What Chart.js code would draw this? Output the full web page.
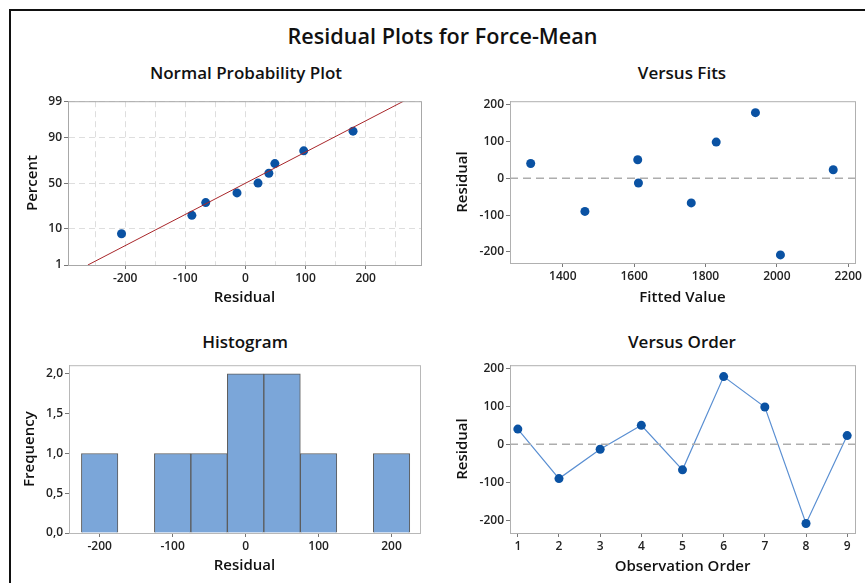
<!DOCTYPE html>
<html>
<head>
<meta charset="utf-8">
<script src="https://cdn.jsdelivr.net/npm/chart.js@4.4.1/dist/chart.umd.min.js"></script>
<style>
  html, body { margin: 0; padding: 0; background: #fff; }
  body { width: 865px; height: 583px; position: relative; overflow: hidden; font-family: "Open Sans", sans-serif; color: #111; }
  .frame { position: absolute; left: 9px; top: 9px; width: 900px; height: 600px; border-left: 2px solid #111; border-top: 2px solid #111; }
  .title { position: absolute; left: 0; width: 885px; top: 21px; text-align: center; font-size: 21.6px; font-weight: 600; }
  .sub { position: absolute; font-size: 17px; font-weight: 600; text-align: center; width: 300px; }
  canvas { position: absolute; }
</style>
</head>
<body>
<div class="frame"></div>
<div class="title">Residual Plots for Force-Mean</div>
<div class="sub" style="left:96px; top:61px;">Normal Probability Plot</div>
<div class="sub" style="left:532px; top:61px;">Versus Fits</div>
<div class="sub" style="left:95px; top:330px;">Histogram</div>
<div class="sub" style="left:532px; top:330px;">Versus Order</div>

<div style="position:absolute;left:14px;top:92px;width:414px;height:222px;"><canvas id="npp"></canvas></div>
<div style="position:absolute;left:446px;top:92px;width:419px;height:222px;"><canvas id="fits"></canvas></div>
<div style="position:absolute;left:14px;top:356px;width:414px;height:227px;"><canvas id="hist"></canvas></div>
<div style="position:absolute;left:446px;top:356px;width:419px;height:227px;"><canvas id="order"></canvas></div>

<script>
// residuals in observation order
const orderLabels = [1, 2, 3, 4, 5, 6, 7, 8, 9];
const residuals = [40, -90, -13, 50, -67, 178, 98, -208, 23];
const fittedValues = [1310, 1462, 1612, 1610, 1760, 1940, 1830, 2010, 2158];

// normal probability plot (sorted residuals and their plotted percent)
const nppResiduals = [-206, -89, -66, -14, 21, 39, 49, 97, 179];
const nppPercent = [7.5, 18, 29, 39, 50, 61, 71, 82, 93];
const nppLineX = [-262, 263];
const nppLineP = [1, 99];
const nppPercentTicks = [1, 10, 50, 90, 99];
const nppXTicks = [-250, -200, -150, -100, -50, 0, 50, 100, 150, 200, 250];

// histogram bins (centers) and counts
const binCenters = [-200, -150, -100, -50, 0, 50, 100, 150, 200];
const binCounts = [1, 0, 1, 1, 2, 2, 1, 0, 1];
const histXTicks = [-200, -100, 0, 100, 200];
const histYTicks = [0, 0.5, 1, 1.5, 2];

const residTicks = [-200, -100, 0, 100, 200];
const fitsXTicks = [1400, 1600, 1800, 2000, 2200];

const BLUE = '#0a52a3';
const FONT = 'Open Sans';
const tickFont = { family: FONT, size: 12, weight: '600' };
const titleFont = { family: FONT, size: 15, weight: '600' };

// inverse normal cdf (Acklam), p in percent
function probit(pct) {
  const p = pct / 100;
  const a = [-3.969683028665376e+01, 2.209460984245205e+02, -2.759285104469687e+02, 1.383577518672690e+02, -3.066479806614716e+01, 2.506628277459239e+00];
  const b = [-5.447609879822406e+01, 1.615858368580409e+02, -1.556989798598866e+02, 6.680131188771972e+01, -1.328068155288572e+01];
  const c = [-7.784894002430293e-03, -3.223964580411365e-01, -2.400758277161838e+00, -2.549732539343734e+00, 4.374664141464968e+00, 2.938163982698783e+00];
  const d = [7.784695709041462e-03, 3.224671290700398e-01, 2.445134137142996e+00, 3.754408661907416e+00];
  const pl = 0.02425;
  let q, r;
  if (p < pl) {
    q = Math.sqrt(-2 * Math.log(p));
    return (((((c[0]*q+c[1])*q+c[2])*q+c[3])*q+c[4])*q+c[5]) / ((((d[0]*q+d[1])*q+d[2])*q+d[3])*q+1);
  }
  if (p > 1 - pl) {
    q = Math.sqrt(-2 * Math.log(1 - p));
    return -(((((c[0]*q+c[1])*q+c[2])*q+c[3])*q+c[4])*q+c[5]) / ((((d[0]*q+d[1])*q+d[2])*q+d[3])*q+1);
  }
  q = p - 0.5; r = q * q;
  return (((((a[0]*r+a[1])*r+a[2])*r+a[3])*r+a[4])*r+a[5])*q / (((((b[0]*r+b[1])*r+b[2])*r+b[3])*r+b[4])*r+1);
}

// box around plot area + optional dashed zero line
const frameBox = {
  id: 'frameBox',
  afterDatasetsDraw(chart, args, opts) {
    const { ctx, chartArea: a } = chart;
    ctx.save();
    if (opts.zeroLine) {
      const y = chart.scales.y.getPixelForValue(0);
      ctx.strokeStyle = '#adadad';
      ctx.lineWidth = 1.5;
      ctx.setLineDash([8, 5]);
      ctx.beginPath();
      ctx.moveTo(a.left, y);
      ctx.lineTo(a.right, y);
      ctx.stroke();
      ctx.setLineDash([]);
    }
    ctx.strokeStyle = opts.color || '#a8a8a8';
    ctx.lineWidth = 1;
    ctx.strokeRect(a.left + 0.5, a.top + 0.5, a.right - a.left, a.bottom - a.top);
    ctx.restore();
  }
};
Chart.register(frameBox);

function fixTicks(values) {
  return scale => { scale.ticks = values.map(v => ({ value: v })); };
}

function xAxis(min, max, ticks, title, height, opts = {}) {
  return {
    type: 'linear', min, max, offset: false,
    afterBuildTicks: fixTicks(ticks),
    afterFit: s => { s.height = height; },
    border: Object.assign({ color: '#a8a8a8' }, opts.border || {}),
    grid: Object.assign({ display: true, offset: false, drawOnChartArea: false, tickLength: 4, tickColor: '#777' }, opts.grid || {}),
    ticks: Object.assign({ font: tickFont, color: '#222', padding: 2, maxRotation: 0, autoSkip: false, callback: v => String(v) }, opts.ticks || {}),
    title: { display: true, text: title, font: titleFont, color: '#111', padding: { top: 0, bottom: opts.titlePad || 7.5 } }
  };
}

function yAxis(min, max, ticks, title, width, titlePad, opts = {}) {
  return {
    type: 'linear', min, max,
    afterBuildTicks: fixTicks(ticks),
    afterFit: s => { s.width = width; },
    border: Object.assign({ color: '#a8a8a8' }, opts.border || {}),
    grid: Object.assign({ display: true, drawOnChartArea: false, tickLength: 4, tickColor: '#777' }, opts.grid || {}),
    ticks: Object.assign({ font: tickFont, color: '#222', padding: 2, autoSkip: false, callback: v => String(v) }, opts.ticks || {}),
    title: { display: true, text: title, font: titleFont, color: '#111', padding: { top: titlePad, bottom: 0 } }
  };
}

const common = {
  responsive: true,
  maintainAspectRatio: false,
  animation: false,
  events: [],
  plugins: { legend: { display: false }, tooltip: { enabled: false } }
};

// Normal probability plot
new Chart(document.getElementById('npp'), {
  type: 'scatter',
  data: {
    datasets: [
      {
        data: nppLineX.map((x, i) => ({ x, y: probit(nppLineP[i]) })),
        showLine: true, borderColor: '#a8262a', borderWidth: 1, pointRadius: 0
      },
      {
        data: nppResiduals.map((x, i) => ({ x, y: probit(nppPercent[i]) })),
        backgroundColor: BLUE, borderColor: BLUE, pointRadius: 4.5, borderWidth: 0
      }
    ]
  },
  options: Object.assign({}, common, {
    layout: { padding: { top: 8, right: 7, left: 0, bottom: 0 } },
    plugins: Object.assign({}, common.plugins, { frameBox: { color: '#a8a8a8' } }),
    scales: {
      x: xAxis(-295, 292, nppXTicks, 'Residual', 49, {
        grid: { drawOnChartArea: true, color: '#dedede', tickColor: c => (c.tick && c.tick.value % 100 === 0 ? '#777' : 'rgba(0,0,0,0)') },
        border: { dash: [6, 4] },
        ticks: { callback: v => (v % 100 === 0 ? String(v) : '') }
      }),
      y: yAxis(probit(1), probit(99), nppPercentTicks.map(probit), 'Percent', 54, 10, {
        grid: { drawOnChartArea: true, color: '#dedede' },
        border: { dash: [6, 4] },
        ticks: { callback: (v, i) => String(nppPercentTicks[i]) }
      })
    }
  })
});

// Versus fits
new Chart(document.getElementById('fits'), {
  type: 'scatter',
  data: {
    datasets: [{
      data: fittedValues.map((x, i) => ({ x, y: residuals[i] })),
      backgroundColor: BLUE, borderColor: BLUE, pointRadius: 4.5, borderWidth: 0
    }]
  },
  options: Object.assign({}, common, {
    layout: { padding: { top: 8, right: 10, left: 0, bottom: 0 } },
    plugins: Object.assign({}, common.plugins, { frameBox: { zeroLine: true, color: '#b0b0b0' } }),
    scales: {
      x: xAxis(1252, 2219, fitsXTicks, 'Fitted Value', 51),
      y: yAxis(-230, 209, residTicks, 'Residual', 64, 7.8)
    }
  })
});

// Histogram
new Chart(document.getElementById('hist'), {
  type: 'bar',
  data: {
    datasets: [{
      data: binCenters.map((x, i) => ({ x, y: binCounts[i] })),
      backgroundColor: '#7ba6d9', borderColor: '#5c5c5c', borderWidth: 1,
      barPercentage: 1, categoryPercentage: 1
    }]
  },
  options: Object.assign({}, common, {
    layout: { padding: { top: 8, right: 8, left: 0, bottom: 0 } },
    plugins: Object.assign({}, common.plugins, { frameBox: { color: '#b8b8b8' } }),
    scales: {
      x: xAxis(-242, 239, histXTicks, 'Residual', 50, { titlePad: 8, border: { color: '#777' } }),
      y: yAxis(0, 2.11, histYTicks, 'Frequency', 55, 7, {
        ticks: { callback: v => v.toFixed(1).replace('.', ',') }
      })
    }
  })
});

// Versus order
new Chart(document.getElementById('order'), {
  type: 'line',
  data: {
    datasets: [{
      data: orderLabels.map((x, i) => ({ x, y: residuals[i] })),
      borderColor: '#5a8fd2', borderWidth: 1.2,
      backgroundColor: BLUE, pointBackgroundColor: BLUE, pointBorderWidth: 0, pointRadius: 4.5,
      tension: 0, fill: false
    }]
  },
  options: Object.assign({}, common, {
    layout: { padding: { top: 8, right: 10, left: 0, bottom: 0 } },
    plugins: Object.assign({}, common.plugins, { frameBox: { zeroLine: true, color: '#b0b0b0' } }),
    scales: {
      x: xAxis(0.81, 9.19, orderLabels, 'Observation Order', 50),
      y: yAxis(-233, 208, residTicks, 'Residual', 64, 7.8)
    }
  })
});
</script>
</body>
</html>
